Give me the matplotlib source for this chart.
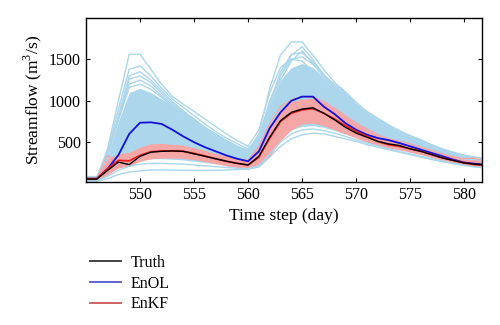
import matplotlib
matplotlib.use("Agg")
import matplotlib.pyplot as plt
import numpy as np

plt.rcParams["font.family"] = ["Liberation Serif", "DejaVu Serif"]
plt.rcParams["mathtext.fontset"] = "custom"
plt.rcParams["mathtext.rm"] = "Liberation Serif"

days = np.arange(545, 583)

truth = [55, 55, 160, 260, 230, 330, 380, 390, 395, 390, 360, 330, 300, 270, 245,
         225, 330, 560, 760, 860, 900, 915, 850, 770, 680, 610, 560, 510, 480, 460,
         420, 390, 350, 310, 280, 250, 235, 225]
enol_mean = [60, 60, 180, 345, 600, 735, 740, 720, 650, 570, 500, 440, 390, 340, 300,
             270, 390, 670, 860, 1000, 1050, 1050, 930, 840, 730, 650, 590, 550, 525, 490,
             450, 410, 370, 330, 290, 255, 240, 230]
enkf_mean = [60, 60, 180, 280, 275, 340, 385, 395, 395, 390, 365, 335, 300, 270, 245,
             225, 320, 550, 750, 850, 890, 905, 850, 780, 700, 630, 570, 510, 470, 450,
             420, 390, 350, 310, 280, 250, 230, 220]

# dense part of the open-loop ensemble
enol_lo = [35, 35, 110, 200, 260, 290, 300, 300, 295, 285, 270, 255, 240, 225, 210,
           200, 260, 420, 560, 650, 690, 700, 680, 640, 600, 560, 520, 480, 445, 410,
           380, 350, 320, 290, 260, 235, 215, 205]
enol_hi = [100, 100, 330, 750, 1100, 1150, 1100, 1020, 940, 860, 780, 690, 610, 530, 460,
           400, 540, 950, 1250, 1400, 1450, 1400, 1280, 1150, 1060, 930, 830, 750, 680, 620,
           570, 520, 460, 410, 370, 335, 310, 295]

# individual open-loop members outside the dense part
enol_members = [
    [70, 70, 420, 1000, 1560, 1560, 1380, 1200, 1050, 960, 870, 780, 690, 600, 520,
     450, 650, 1100, 1400, 1500, 1480, 1350, 1250, 1150, 1080, 950, 870, 790, 710, 640,
     580, 530, 470, 420, 380, 345, 320, 300],
    [60, 60, 380, 900, 1380, 1420, 1300, 1150, 1020, 920, 820, 720, 630, 550, 480,
     420, 560, 950, 1300, 1550, 1650, 1500, 1300, 1200, 1100, 960, 850, 760, 690, 620,
     560, 510, 450, 400, 360, 330, 310, 290],
    [80, 80, 350, 820, 1300, 1350, 1250, 1120, 990, 880, 780, 680, 600, 520, 450,
     400, 600, 1150, 1550, 1710, 1710, 1550, 1380, 1220, 1110, 980, 870, 780, 700, 630,
     570, 520, 460, 410, 370, 340, 315, 295],
    [50, 50, 330, 780, 1200, 1250, 1180, 1060, 950, 850, 750, 660, 580, 500, 440,
     390, 520, 900, 1250, 1480, 1600, 1450, 1300, 1150, 1050, 930, 830, 740, 670, 610,
     550, 500, 440, 395, 355, 325, 300, 285],
    [70, 70, 360, 800, 1260, 1300, 1220, 1090, 970, 870, 770, 670, 590, 510, 445,
     395, 540, 960, 1350, 1560, 1580, 1470, 1320, 1180, 1080, 950, 845, 760, 685, 620,
     560, 510, 450, 400, 362, 332, 308, 290],
    [60, 60, 340, 760, 1160, 1200, 1140, 1040, 930, 840, 740, 650, 570, 490, 430,
     380, 560, 1000, 1300, 1500, 1530, 1440, 1290, 1160, 1070, 940, 835, 750, 675, 615,
     555, 505, 445, 398, 358, 328, 304, 288],
    [30, 30, 60, 110, 140, 155, 165, 165, 165, 160, 160, 160, 160, 165, 170,
     175, 200, 320, 450, 540, 590, 610, 600, 570, 540, 510, 470, 440, 410, 380,
     350, 320, 290, 265, 240, 220, 200, 190],
    [40, 40, 90, 160, 210, 235, 245, 245, 240, 235, 225, 215, 205, 195, 185,
     180, 220, 360, 500, 600, 650, 660, 640, 610, 570, 530, 490, 455, 420, 390,
     360, 330, 300, 275, 250, 230, 210, 200],
]

# assimilated ensemble spread
enkf_lo = [35, 35, 110, 190, 210, 270, 300, 310, 310, 305, 290, 265, 240, 215, 195,
           180, 220, 330, 520, 650, 720, 730, 700, 650, 600, 550, 500, 460, 430, 410,
           380, 350, 315, 285, 255, 230, 210, 200]
enkf_hi = [90, 90, 300, 360, 380, 440, 480, 480, 470, 460, 430, 400, 360, 325, 300,
           290, 440, 700, 900, 990, 1020, 1030, 980, 900, 810, 720, 650, 580, 530, 500,
           470, 430, 390, 350, 320, 290, 290, 250]
enkf_members = [
    [60, 60, 340, 250, 330, 420, 460, 470, 460, 450, 420, 390, 350, 320, 290,
     280, 450, 720, 930, 1010, 1050, 1040, 990, 910, 820, 730, 660, 590, 540, 510,
     480, 440, 400, 355, 325, 300, 310, 255],
    [50, 50, 260, 320, 260, 300, 330, 340, 340, 335, 315, 290, 265, 240, 215,
     200, 260, 420, 620, 720, 770, 790, 760, 700, 640, 580, 530, 480, 445, 425,
     395, 365, 330, 295, 265, 240, 220, 210],
]

fig = plt.figure(figsize=(5.0, 3.25), dpi=100)
ax = fig.add_axes([0.172, 0.44, 0.791, 0.505])

light_blue = "#abd6eb"
light_red = "#f7a6a6"

for m in enol_members:
    ax.plot(days, m, color=light_blue, lw=1.0)
ax.fill_between(days, enol_lo, enol_hi, color=light_blue, lw=0)

ax.fill_between(days, enkf_lo, enkf_hi, color=light_red, lw=0)
for m in enkf_members:
    ax.plot(days, m, color=light_red, lw=1.0)

ax.plot(days, enol_mean, color="#1010dd", lw=1.3)
ax.plot(days, enkf_mean, color="#e82020", lw=1.3)
ax.plot(days, truth, color="black", lw=1.0)

ax.set_xlim(545, 581.6)
ax.set_ylim(20, 2000)
ax.set_xticks(np.arange(550, 581, 5))
ax.set_yticks([500, 1000, 1500])
ax.tick_params(direction="in", top=True, right=True, labelsize=11.5, length=3, width=0.8)
for s in ax.spines.values():
    s.set_linewidth(1.0)

ax.set_xlabel("Time step (day)", fontsize=12.5)
ax.set_ylabel("Streamflow (m$^3$/s)", fontsize=12.5)

handles = [
    plt.Line2D([], [], color="#333333", lw=1.3),
    plt.Line2D([], [], color="#5555cc", lw=1.3),
    plt.Line2D([], [], color="#cc5555", lw=1.3),
]
fig.legend(handles, ["Truth", "EnOL", "EnKF"], loc="upper left",
           bbox_to_anchor=(0.152, 0.26), frameon=False, fontsize=11.5,
           handlelength=1.9, handletextpad=0.6, labelspacing=0.3)

fig.savefig("out.png", dpi=100)
